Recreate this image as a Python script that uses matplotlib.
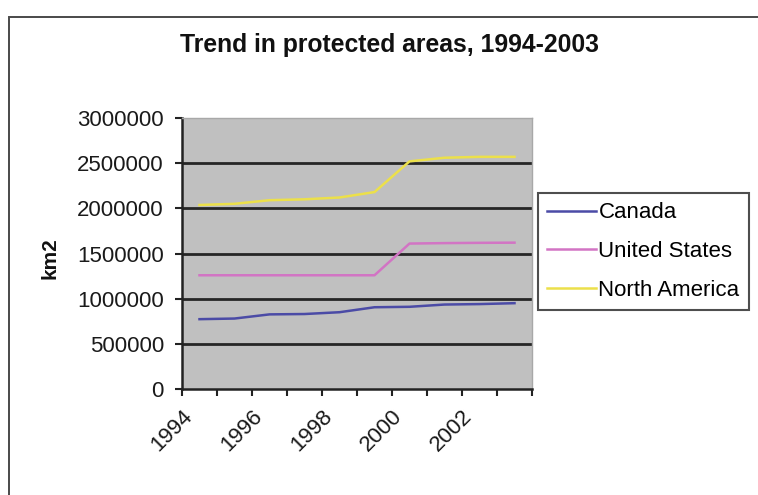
#!/usr/bin/env python3
"""Trend in protected areas, 1994-2003 (Excel-style line chart)."""

import matplotlib

matplotlib.use("Agg")
import matplotlib.pyplot as plt
import numpy as np
from matplotlib.patches import Rectangle

YEARS = [1994, 1995, 1996, 1997, 1998, 1999, 2000, 2001, 2002, 2003]
CANADA = [773000, 780000, 826000, 830000, 850000, 905000, 910000, 935000, 940000, 950000]
UNITED_STATES = [1259000, 1259000, 1259000, 1259000, 1259000, 1259000,
                 1610000, 1615000, 1618000, 1620000]
NORTH_AMERICA = [2037000, 2050000, 2090000, 2100000, 2120000, 2180000,
                 2520000, 2560000, 2570000, 2570000]
SERIES_NAMES = ["Canada", "United States", "North America"]
Y_TICKS = [0, 500000, 1000000, 1500000, 2000000, 2500000, 3000000]
X_LABEL_YEARS = [1994, 1996, 1998, 2000, 2002]

COLORS = ["#4b4ba6", "#d274c4", "#ece04a"]
FONT = ["Liberation Sans", "DejaVu Sans"]

plt.rcParams["font.family"] = FONT

W, H = 758, 495
fig = plt.figure(figsize=(W / 100, H / 100), dpi=100)

# outer chart frame (only left and top edges visible in the crop)
fig.add_artist(Rectangle((9 / W, -0.2), 1.2, 0.2 + (H - 17) / H,
                         transform=fig.transFigure, fill=False,
                         edgecolor="#4a4a4a", linewidth=1.4))

ax = fig.add_axes([182 / W, (H - 389) / H, (532 - 182) / W, (389 - 118) / H])
ax.set_facecolor("#c0c0c0")

x = np.arange(len(YEARS)) + 0.5
for vals, name, col in zip([CANADA, UNITED_STATES, NORTH_AMERICA], SERIES_NAMES, COLORS):
    ax.plot(x, vals, color=col, linewidth=1.8, label=name, zorder=3)

ax.set_xlim(0, len(YEARS))
ax.set_ylim(Y_TICKS[0], Y_TICKS[-1])

# heavy Excel gridlines, none on top edge
for yv in Y_TICKS[1:-1]:
    ax.axhline(yv, color="#262626", linewidth=2.0, zorder=2)

ax.set_yticks(Y_TICKS)
ax.set_yticklabels([str(v) for v in Y_TICKS], fontsize=16, color="#1a1a1a")

ax.set_xticks(np.arange(len(YEARS) + 1))
labels = [str(y) if y in X_LABEL_YEARS else "" for y in YEARS] + [""]
ax.set_xticklabels(labels, rotation=45, ha="right", rotation_mode="anchor",
                   fontsize=16, color="#1a1a1a")

ax.tick_params(axis="both", direction="out", length=5, width=1.5, color="#222222")
ax.tick_params(axis="y", pad=8)
ax.tick_params(axis="x", pad=7)

for side in ("left", "bottom"):
    ax.spines[side].set_color("#222222")
    ax.spines[side].set_linewidth(1.8)
for side in ("top", "right"):
    ax.spines[side].set_color("#a8a8a8")
    ax.spines[side].set_linewidth(1.0)

fig.text(50 / W, (H - 258) / H, "km2", rotation=90, ha="center", va="center",
         fontsize=15, fontweight="bold", color="#111111")

fig.text(389 / W, (H - 45) / H, "Trend in protected areas, 1994-2003",
         ha="center", va="center", fontsize=17.8, fontweight="bold",
         color="#111111")

leg = fig.legend(loc="upper left", bbox_to_anchor=(538 / W, (H - 193) / H),
                 bbox_transform=fig.transFigure, borderaxespad=0,
                 frameon=True, fancybox=False, fontsize=16,
                 handlelength=2.2, handletextpad=0.1, labelspacing=0.8,
                 borderpad=0.42)
leg.get_frame().set_edgecolor("#222222")
leg.get_frame().set_linewidth(1.5)

fig.savefig("out.png", dpi=100)
